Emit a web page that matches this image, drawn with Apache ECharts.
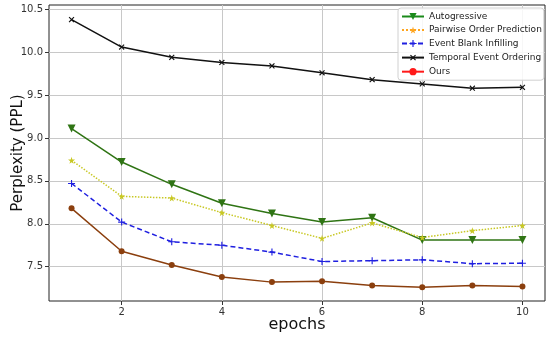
<!DOCTYPE html>
<html><head><meta charset="utf-8">
<script src="https://cdn.jsdelivr.net/npm/echarts@6/dist/echarts.min.js"></script>
<style>html,body{margin:0;padding:0;background:#fff}#c{width:550px;height:337px}</style>
</head><body><div id="c"></div>
<script>
const epochs = [1,2,3,4,5,6,7,8,9,10];
const autogressive = [9.11,8.72,8.46,8.24,8.12,8.02,8.07,7.81,7.81,7.81];
const pairwise = [8.74,8.32,8.30,8.13,7.98,7.83,8.01,7.84,7.92,7.98];
const eventBlank = [8.47,8.02,7.79,7.75,7.67,7.56,7.57,7.58,7.535,7.54];
const temporal = [10.38,10.06,9.94,9.88,9.84,9.76,9.68,9.63,9.58,9.59];
const ours = [8.18,7.68,7.52,7.38,7.32,7.33,7.28,7.26,7.28,7.27];
const xTicks = [2,4,6,8,10];
const yTicks = [7.5,8.0,8.5,9.0,9.5,10.0,10.5];

const STAR = 'path://M50,0 L61,35 L98,35 L68,57 L79,91 L50,70 L21,91 L32,57 L2,35 L39,35 Z';
const PLUS = 'path://M42,0 H58 V42 H100 V58 H58 V100 H42 V58 H0 V42 H42 Z';
const pts = arr => epochs.map((e,i)=>[e,arr[i]]);
const font = 'DejaVu Sans';

const chart = echarts.init(document.getElementById('c'), null, {renderer:'canvas'});
function mk(name, data, color, symbol, size, lineType, rot){
  return {name, type:'line', data:pts(data), symbol, symbolSize:size, symbolRotate:rot||0,
    itemStyle:{color}, lineStyle:{color, width:1.5, type:lineType}, animation:false, z:3};
}
chart.setOption({
  animation:false,
  grid:{left:49, right:5, top:5, bottom:36, show:true, borderColor:'#222', borderWidth:1,
    containLabel:false, outerBoundsMode:'none'},
  xAxis:{type:'value', min:0.55, max:10.45,
    name:'epochs', nameLocation:'middle', nameGap:16, nameMoveOverlap:false,
    nameTextStyle:{fontFamily:font, fontSize:16, color:'#111', verticalAlign:'top'},
    axisLine:{show:false},
    axisTick:{show:true, length:4, customValues:xTicks, lineStyle:{color:'#333'}},
    axisLabel:{customValues:xTicks, fontFamily:font, fontSize:10, color:'#333', margin:6},
    splitLine:{show:true, lineStyle:{color:'#c8c8c8', width:1}}},
  yAxis:{type:'value', min:7.1, max:10.55,
    name:'Perplexity (PPL)', nameLocation:'middle', nameGap:23, nameMoveOverlap:false,
    nameTextStyle:{fontFamily:font, fontSize:15, color:'#111', verticalAlign:'bottom'},
    axisLine:{show:false},
    axisTick:{show:true, length:4, customValues:yTicks, lineStyle:{color:'#333'}},
    axisLabel:{customValues:yTicks, fontFamily:font, fontSize:10, color:'#333', margin:6,
      formatter:v=>v.toFixed(1)},
    splitLine:{show:true, lineStyle:{color:'#c8c8c8', width:1}}},
  legend:{orient:'vertical', left:398, top:8, itemGap:4.5, itemWidth:22, itemHeight:9,
    backgroundColor:'rgba(255,255,255,0.85)', borderColor:'#d0d0d0', borderWidth:1, borderRadius:3,
    padding:[4,2,4,3],
    textStyle:{fontFamily:font, fontSize:9, color:'#222'},
    data:[
      {name:'Autogressive', itemStyle:{color:'#1a8a1a'}, lineStyle:{color:'#1a8a1a'}},
      {name:'Pairwise Order Prediction', itemStyle:{color:'#ffa51e'}, lineStyle:{color:'#ffa51e'}},
      {name:'Event Blank Infilling'},
      {name:'Temporal Event Ordering'},
      {name:'Ours', itemStyle:{color:'#ff1a1a'}, lineStyle:{color:'#ff1a1a'}}
    ]},
  series:[
    mk('Autogressive', autogressive, '#2f7414', 'triangle', 8, 'solid', 180),
    mk('Pairwise Order Prediction', pairwise, '#c8c824', STAR, 7, 'dotted'),
    mk('Event Blank Infilling', eventBlank, '#1f1fe0', PLUS, 7, [5,3]),
    mk('Temporal Event Ordering', temporal, '#111111', PLUS, 7, 'solid', 45),
    mk('Ours', ours, '#8b3f0e', 'circle', 6, 'solid')
  ]
});
</script></body></html>
